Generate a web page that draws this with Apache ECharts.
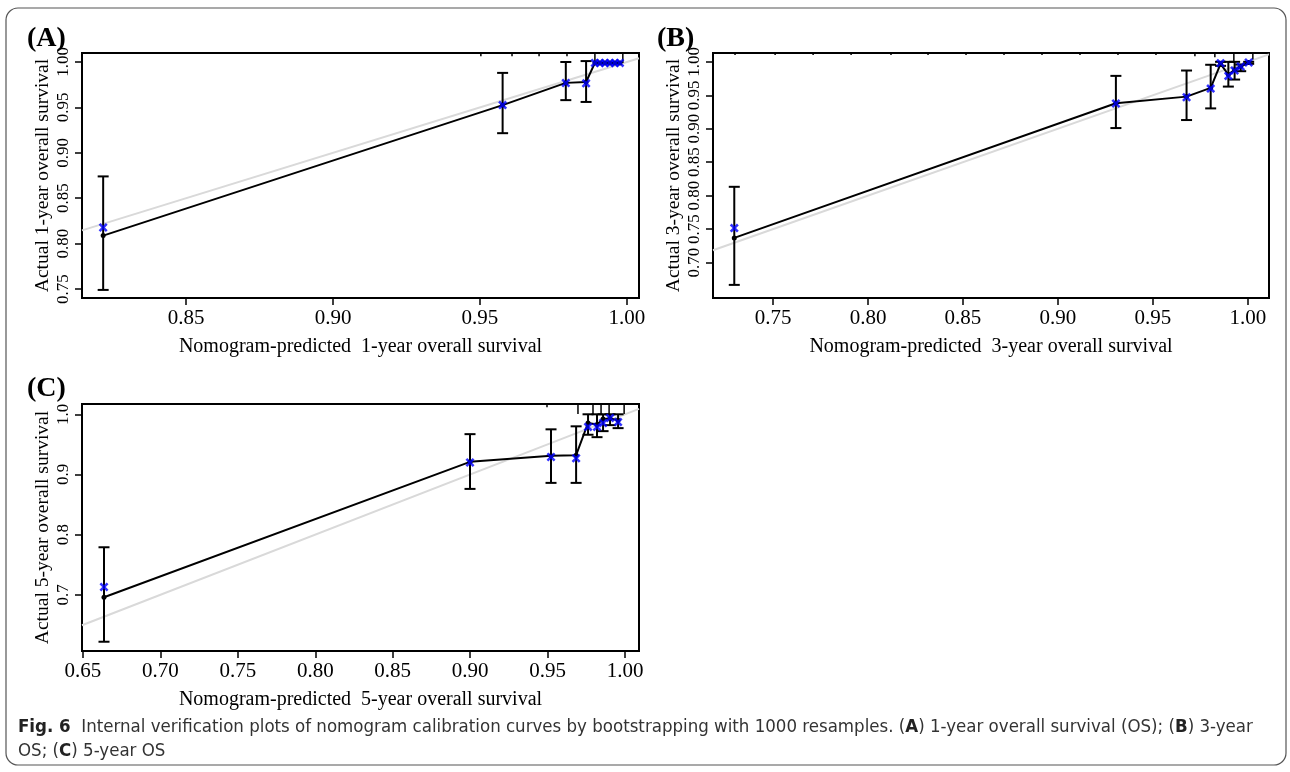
<!DOCTYPE html>
<html>
<head>
<meta charset="UTF-8">
<title>Calibration curves</title>
<script src="https://cdn.jsdelivr.net/npm/echarts@6/dist/echarts.min.js"></script>
<style>
  html, body { margin:0; padding:0; background:#fff; }
  #main { width:1290px; height:772px; }
</style>
</head>
<body>
<div id="main"></div>
<script>
// ---- panel A : 1-year OS ----
var predA = [0.8218, 0.9577, 0.9792, 0.9861, 0.9891, 0.9908, 0.9925, 0.9942, 0.9959, 0.9976];
var obsA  = [0.8088, 0.9525, 0.9770, 0.9780, 0.9990, 0.9990, 0.9990, 0.9990, 0.9990, 0.9990];
var corrA = [0.8177, 0.9525, 0.9768, 0.9765, 0.9990, 0.9990, 0.9990, 0.9990, 0.9990, 0.9990];
var lowA  = [0.749, 0.9216, 0.958, 0.956, null, null, null, null, null, null];
var highA = [0.874, 0.988, 1.000, 1.001, null, null, null, null, null, null];
var rugA  = [0.9503, 0.9609, 0.9701, 0.9796, 0.9891, 0.9986];
var rugWA = [1, 1, 1, 1, 3, 3];
var xTicksA = [0.85, 0.90, 0.95, 1.00];
var yTicksA = [0.75, 0.80, 0.85, 0.90, 0.95, 1.00];

// ---- panel B : 3-year OS ----
var predB = [0.7296, 0.9305, 0.9677, 0.9804, 0.9856, 0.9897, 0.9930, 0.9962, 1.0004];
var obsB  = [0.7368, 0.9380, 0.9480, 0.9610, 0.9970, 0.9810, 0.9880, 0.9930, 0.9990];
var corrB = [0.7515, 0.9378, 0.9470, 0.9600, 0.9980, 0.9790, 0.9870, 0.9930, 0.9990];
var lowB  = [0.6666, 0.901, 0.913, 0.9304, 0.994, 0.963, 0.9735, 0.986, 0.997];
var highB = [0.8132, 0.979, 0.987, 0.9956, 1.000, 1.000, 1.000, 0.996, 1.000];
var rugB  = [0.7300, 0.7511, 0.7711, 0.7911, 0.8121, 0.8316, 0.8516, 0.8716, 0.8916,
             0.9116, 0.9316, 0.9516, 0.9721, 0.9826, 0.9926, 1.0026];
var rugWB = [0.6, 0.6, 0.6, 0.6, 0.6, 0.6, 0.6, 0.6, 0.6, 0.6, 0.6, 0.6, 1, 1.3, 3, 2];
var xTicksB = [0.75, 0.80, 0.85, 0.90, 0.95, 1.00];
var yTicksB = [0.70, 0.75, 0.80, 0.85, 0.90, 0.95, 1.00];

// ---- panel C : 5-year OS ----
var predC = [0.6636, 0.8999, 0.9522, 0.9684, 0.9761, 0.9819, 0.9858, 0.9903, 0.9955];
var obsC  = [0.696, 0.921, 0.931, 0.932, 0.9855, 0.983, 0.992, 0.993, 0.990];
var corrC = [0.713, 0.920, 0.929, 0.927, 0.979, 0.979, 0.9855, 0.994, 0.987];
var lowC  = [0.622, 0.876, 0.886, 0.886, 0.966, 0.962, 0.972, 0.982, 0.977];
var highC = [0.779, 0.967, 0.975, 0.980, 1.000, 1.000, 1.000, 1.000, 1.000];
var rugC  = [0.9496, 0.9696, 0.9793, 0.9845, 0.9897, 0.9994];
var rugWC = [1, 3, 3, 3, 3, 3];
var xTicksC = [0.65, 0.70, 0.75, 0.80, 0.85, 0.90, 0.95, 1.00];
var yTicksC = [0.7, 0.8, 0.9, 1.0];

var serif = 'Liberation Serif';
var myChart = echarts.init(document.getElementById('main'));

function zip2(a, b) {
    var out = [];
    for (var i = 0; i < a.length; i++) out.push([a[i], b[i]]);
    return out;
}
function errData(x, lo, hi) {
    var out = [];
    for (var i = 0; i < x.length; i++) {
        if (lo[i] != null) out.push([x[i], lo[i], hi[i]]);
    }
    return out;
}
function xAx(idx, min, max, ticks, name) {
    return {
        gridIndex: idx, type: 'value', min: min, max: max,
        name: name, nameLocation: 'middle', nameGap: 39,
        nameTextStyle: { fontFamily: serif, fontSize: 20, color: '#000' },
        axisLine: { show: true, onZero: false, lineStyle: { color: '#000', width: 2 } },
        axisTick: { show: true, length: 7, customValues: ticks, lineStyle: { color: '#000', width: 1.5 } },
        axisLabel: { customValues: ticks, fontFamily: serif, fontSize: 21, color: '#000', margin: 10,
            formatter: function (v) { return v.toFixed(2); } },
        splitLine: { show: false }
    };
}
function yAx(idx, min, max, ticks, name, dec) {
    return {
        gridIndex: idx, type: 'value', min: min, max: max,
        name: name, nameLocation: 'middle', nameGap: 29, nameRotate: 90,
        nameTextStyle: { fontFamily: serif, fontSize: 19.5, color: '#000' },
        axisLine: { show: true, onZero: false, lineStyle: { color: '#000', width: 2 } },
        axisTick: { show: true, length: 7, customValues: ticks, lineStyle: { color: '#000', width: 1.5 } },
        axisLabel: { customValues: ticks, rotate: 90, fontFamily: serif, fontSize: 17, color: '#000', margin: 10,
            formatter: function (v) { return v.toFixed(dec); } },
        splitLine: { show: false }
    };
}

// error bar with caps
function errRender(params, api) {
    var lo = api.coord([api.value(0), api.value(1)]);
    var hi = api.coord([api.value(0), api.value(2)]);
    var cw = 5.5;
    var st = { stroke: '#000', lineWidth: 2 };
    return { type: 'group', children: [
        { type: 'line', shape: { x1: lo[0], y1: lo[1], x2: hi[0], y2: hi[1] }, style: st },
        { type: 'line', shape: { x1: lo[0] - cw, y1: lo[1], x2: lo[0] + cw, y2: lo[1] }, style: st },
        { type: 'line', shape: { x1: hi[0] - cw, y1: hi[1], x2: hi[0] + cw, y2: hi[1] }, style: st }
    ]};
}
// rug of predicted values along the top of the box
function rugRender(params, api) {
    var px = api.coord([api.value(0), 1])[0];
    var cs = params.coordSys;
    var len = api.value(1) * 3.3;
    return { type: 'line', shape: { x1: px, y1: cs.y, x2: px, y2: cs.y + len },
        style: { stroke: '#000', lineWidth: 1.5 } };
}

var xMark = 'path://M0,2L2,0L5,3L8,0L10,2L7,5L10,8L8,10L5,7L2,10L0,8L3,5Z';

function panelSeries(idx, lo, hi, pred, obs, corr, low, high, rug, rugW) {
    return [
        { type: 'line', xAxisIndex: idx, yAxisIndex: idx, data: [[lo, lo], [hi, hi]],
          symbol: 'none', lineStyle: { color: '#d9d9d9', width: 2 }, z: 1, silent: true },
        { type: 'line', xAxisIndex: idx, yAxisIndex: idx, data: zip2(pred, obs),
          symbol: 'circle', symbolSize: 5, itemStyle: { color: '#000' },
          lineStyle: { color: '#000', width: 2 }, z: 2 },
        { type: 'custom', xAxisIndex: idx, yAxisIndex: idx, data: errData(pred, low, high),
          renderItem: errRender, z: 3, clip: true },
        { type: 'custom', xAxisIndex: idx, yAxisIndex: idx, data: zip2(rug, rugW),
          renderItem: rugRender, z: 3 },
        { type: 'scatter', xAxisIndex: idx, yAxisIndex: idx, data: zip2(pred, corr),
          symbol: xMark, symbolSize: 9, itemStyle: { color: '#0000ff' }, z: 4 }
    ];
}

var option = {
    animation: false,
    backgroundColor: '#fff',
    grid: [
        { left: 82, top: 53, width: 557, height: 245, show: true, borderColor: '#000', borderWidth: 2 },
        { left: 713, top: 53, width: 556, height: 245, show: true, borderColor: '#000', borderWidth: 2 },
        { left: 82, top: 404, width: 557, height: 247, show: true, borderColor: '#000', borderWidth: 2 }
    ],
    xAxis: [
        xAx(0, 0.8146, 1.0041, xTicksA, 'Nomogram-predicted  1-year overall survival'),
        xAx(1, 0.7184, 1.0111, xTicksB, 'Nomogram-predicted  3-year overall survival'),
        xAx(2, 0.6494, 1.0090, xTicksC, 'Nomogram-predicted  5-year overall survival')
    ],
    yAxis: [
        yAx(0, 0.7401, 1.0099, yTicksA, 'Actual 1-year overall survival', 2),
        yAx(1, 0.647, 1.0132, yTicksB, 'Actual 3-year overall survival', 2),
        yAx(2, 0.6066, 1.0171, yTicksC, 'Actual 5-year overall survival', 1)
    ],
    series: [].concat(
        panelSeries(0, 0.8146, 1.0041, predA, obsA, corrA, lowA, highA, rugA, rugWA),
        panelSeries(1, 0.7184, 1.0111, predB, obsB, corrB, lowB, highB, rugB, rugWB),
        panelSeries(2, 0.6494, 1.0090, predC, obsC, corrC, lowC, highC, rugC, rugWC)
    ),
    graphic: [
        { type: 'rect', shape: { x: 6, y: 8, width: 1280, height: 757, r: 12 },
          style: { fill: 'none', stroke: '#555', lineWidth: 1.2 }, z: -1 },
        { type: 'text', left: 27, top: 25, style: { text: '(A)', font: 'bold 28px "Liberation Serif"', fill: '#000' } },
        { type: 'text', left: 657, top: 25, style: { text: '(B)', font: 'bold 28px "Liberation Serif"', fill: '#000' } },
        { type: 'text', left: 27, top: 375, style: { text: '(C)', font: 'bold 28px "Liberation Serif"', fill: '#000' } },
        { type: 'text', left: 18, top: 715, style: {
            text: '{b|Fig. 6}  Internal verification plots of nomogram calibration curves by bootstrapping with 1000 resamples. ({b|A}) 1-year overall survival (OS); ({b|B}) 3-year\nOS; ({b|C}) 5-year OS',
            font: '18.5px "DejaVu Sans Condensed"', fill: '#333', lineHeight: 24,
            rich: { b: { font: 'bold 18.5px "DejaVu Sans Condensed"', fill: '#222', lineHeight: 24 } }
        } }
    ]
};
myChart.setOption(option);
</script>
</body>
</html>
